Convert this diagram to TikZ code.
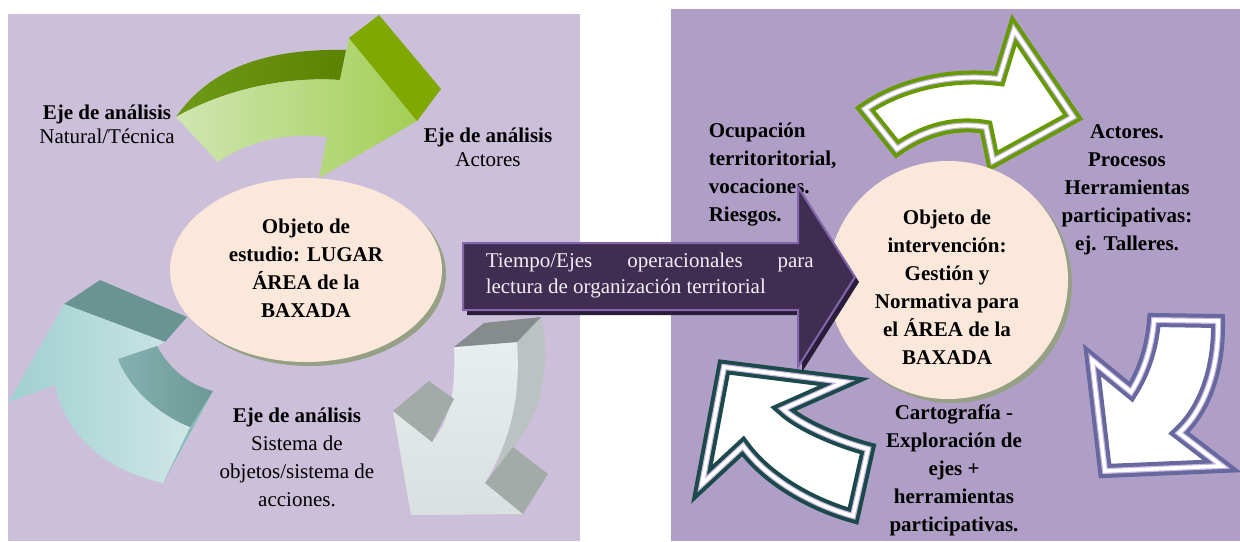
\documentclass[tikz,border=0pt]{standalone}
\usepackage{fontspec}
\setmainfont{Liberation Serif}

\definecolor{leftPanel}{HTML}{CBBFDA}
\definecolor{rightPanel}{HTML}{AF9FC6}
\definecolor{peach}{HTML}{FBE8DA}
\definecolor{ellShadow}{HTML}{95A085}
\definecolor{arrowFill}{HTML}{3F2E52}
\definecolor{arrowRim}{HTML}{8466AC}
\definecolor{arrowShadow}{HTML}{2A1D3A}
\definecolor{tiempoText}{HTML}{F2EEF6}
\definecolor{greenLight}{HTML}{CFE6B2}
\definecolor{greenMid}{HTML}{A3CF55}
\definecolor{greenDarkL}{HTML}{6E9A18}
\definecolor{greenDarkR}{HTML}{5B8300}
\definecolor{greenSide}{HTML}{7FA800}
\definecolor{tealL}{HTML}{9FD0CF}
\definecolor{tealR}{HTML}{CFE6E6}
\definecolor{tealTop}{HTML}{6A9491}
\definecolor{tealSide}{HTML}{86BCB8}
\definecolor{tealInnerA}{HTML}{84B2B0}
\definecolor{tealInnerB}{HTML}{6C9895}
\definecolor{grayFrontA}{HTML}{E8EEEE}
\definecolor{grayFrontB}{HTML}{DAE0E0}
\definecolor{grayTop}{HTML}{868C8C}
\definecolor{graySide}{HTML}{BAC2C2}
\definecolor{grayBarb}{HTML}{A3ABA9}
\definecolor{rimGreen}{HTML}{669A00}
\definecolor{rimBlue}{HTML}{67689D}
\definecolor{rimTeal}{HTML}{1C4A4B}
\definecolor{rimLav}{HTML}{C6B4E0}

\tikzset{every picture/.style={line width=0.75pt}}
\tikzset{
  lbl/.style={inner sep=0pt, align=center, font=\fontsize{10.5}{14}\selectfont},
  lblB/.style={lbl, font=\fontsize{10.5}{14}\selectfont\bfseries},
  rimArrow/.style={preaction={fill=white}, preaction={draw=#1, line width=7pt},
    preaction={draw=rimLav, line width=3pt}, draw=white, line width=1.8pt},
}

\begin{document}
\begin{tikzpicture}[x=0.5pt,y=0.5pt,yscale=-1,xscale=1]
\useasboundingbox (0,0) rectangle (1240,541);

%Shape: Rectangle [left panel]
\fill[leftPanel] (8,14) rectangle (580,541);
%Shape: Rectangle [right panel]
\fill[rightPanel] (671,9) rectangle (1240,541);

%Shape: green arrow, top face
\shade[left color=greenDarkL, right color=greenDarkR] (176,117) .. controls (205,75) and (255,48) .. (346,50) -- (340,80) .. controls (280,76) and (220,92) .. (176,117) -- cycle;
%Shape: green arrow, front
\shade[left color=greenLight, right color=greenMid] (176,117) .. controls (220,92) and (280,76) .. (340,80) -- (349,38) -- (417,121) -- (319,178) -- (327,137) .. controls (290,132) and (250,140) .. (218,162) -- cycle;
%Shape: green arrow, head side
\fill[greenSide] (349,38) -- (379,15) -- (441,89) -- (417,121) -- cycle;

%Shape: teal arrow, top face
\fill[tealTop] (64,304) -- (100,280) -- (187,317) -- (165,342) -- cycle;
%Shape: teal arrow, side
\fill[tealSide] (190,427) -- (213,391) -- (163,483) -- cycle;
%Shape: teal arrow, front
\shade[left color=tealL, right color=tealR] (9,402) -- (64,304) -- (165,342) -- (157,346) -- (118,359) .. controls (130,390) and (160,415) .. (190,427) -- (163,483) .. controls (105,470) and (65,435) .. (55,385) -- cycle;
%Shape: teal arrow, inner face
\shade[left color=tealInnerA, right color=tealInnerB] (118,359) -- (157,346) .. controls (170,370) and (190,385) .. (213,391) -- (190,427) .. controls (160,415) and (130,390) .. (118,359) -- cycle;

%Shape: gray arrow, side
\fill[graySide] (517,342) -- (541,317) .. controls (553,370) and (538,420) .. (513,447) -- (495,470) .. controls (510,430) and (520,390) .. (517,342) -- cycle;
%Shape: gray arrow, front
\shade[top color=grayFrontA, bottom color=grayFrontB] (454,347) -- (517,342) .. controls (521,400) and (510,440) .. (485,483) -- (523,514) -- (411,515) -- (393,411) -- (432,442) .. controls (450,420) and (456,390) .. (454,347) -- cycle;
%Shape: gray arrow, barbs and top
\fill[grayBarb] (485,483) -- (513,447) -- (548,474) -- (523,514) -- cycle;
\fill[grayBarb] (393,411) -- (429,381) -- (454,399) -- (432,442) -- cycle;
\fill[grayTop] (454,347) -- (484,323) -- (541,317) -- (517,342) -- cycle;

%Shape: outlined arrows
\draw[rimArrow=rimGreen] (865,109) .. controls (900,85) and (950,73) .. (999,79) -- (1014,30) -- (1073,117) -- (993,161) -- (986,127) .. controls (950,121) and (920,133) .. (897,149) -- cycle;
\draw[rimArrow=rimBlue] (1154,320) -- (1218,321) .. controls (1219,370) and (1204,410) .. (1179,433) -- (1222,466) -- (1105,471) -- (1092,360) -- (1131,392) .. controls (1145,370) and (1152,345) .. (1154,320) -- cycle;
\draw[rimArrow=rimTeal] (724,367) -- (844,382) -- (783,409) .. controls (800,425) and (838,441) .. (868,449) -- (853,516) .. controls (810,504) and (766,478) .. (743,446) -- (702,484) -- cycle;

%Shape: Ellipse [left]
\fill[ellShadow] (310,274) ellipse [x radius=136, y radius=92];
\fill[peach] (306,270) ellipse [x radius=136, y radius=92];
%Shape: Ellipse [right]
\fill[ellShadow] (952,284) ellipse [x radius=120, y radius=119];
\fill[peach] (948,280) ellipse [x radius=120, y radius=119];

% Text Node
\draw (107,124) node (ejeNatural) [lbl, font=\fontsize{10.5}{12}\selectfont] {\textbf{Eje de análisis}\\Natural/Técnica};
% Text Node
\draw (488,147) node (ejeActores) [lbl, font=\fontsize{10.5}{12}\selectfont] {\textbf{Eje de análisis}\\Actores};
% Text Node
\draw (297,457) node (ejeSistema) [lbl] {\textbf{Eje de análisis}\\Sistema de\\objetos/sistema de\\acciones.};
% Text Node
\draw (306,268) node (objEstudio) [lblB] {Objeto de\\estudio: LUGAR\\ÁREA de la\\BAXADA};
% Text Node
\draw (708,175) node (ocupacion) [lblB, anchor=west, align=left] {Ocupación\\territoritorial,\\vocaciones.\\Riesgos.};
% Text Node
\draw (1127,190) node (actoresR) [lblB] {Actores.\\Procesos\\Herramientas\\participativas:\\ej. Talleres.};
% Text Node
\draw (947,287) node (objIntervencion) [lblB] {Objeto de\\intervención:\\Gestión y\\Normativa para\\el ÁREA de la\\BAXADA};
% Text Node
\draw (954,470) node (cartografia) [lblB] {Cartografía -\\Exploración de\\ejes +\\herramientas\\participativas.};

%Shape: big arrow
\fill[arrowShadow] (467,248) -- (802,248) -- (802,192) -- (859,282) -- (802,372) -- (802,315) -- (467,315) -- cycle;
\draw[arrowRim, fill=arrowFill, line width=1pt] (463,243) -- (798,243) -- (798,187) -- (855,277) -- (798,367) -- (798,310) -- (463,310) -- cycle;
% Text Node
\draw (485,275) node (tiempo) [lbl, anchor=west, align=left, text=tiempoText, font=\fontsize{10.5}{13}\selectfont] {\hbox to 164pt{Tiempo/Ejes\hfill operacionales\hfill para}\\lectura de organización territorial};
\end{tikzpicture}
\end{document}
